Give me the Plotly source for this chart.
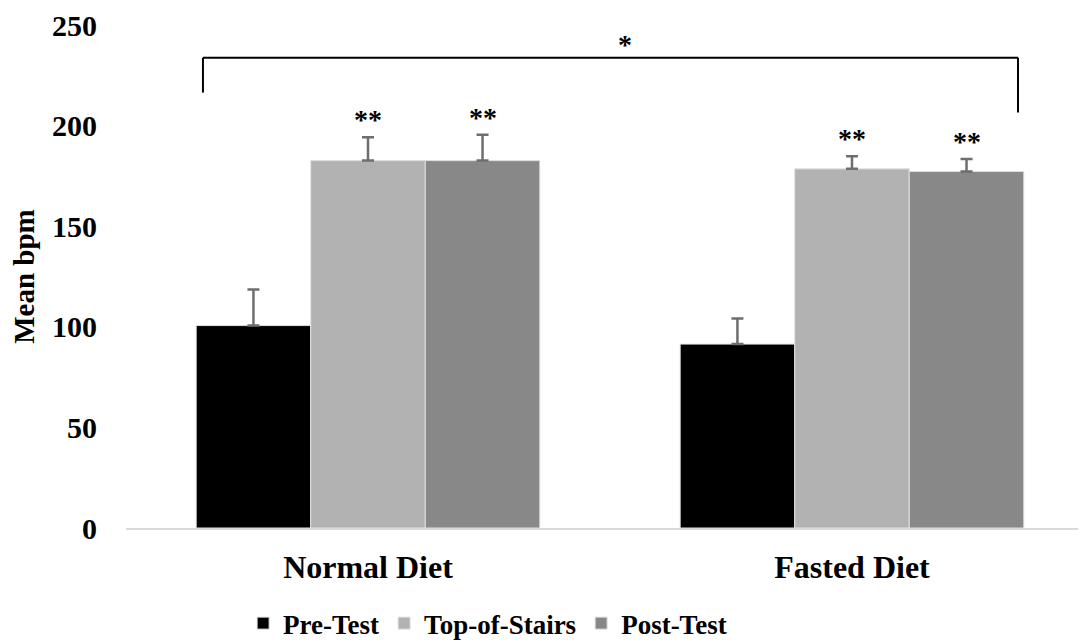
import plotly.graph_objects as go

categories = ["Normal Diet", "Fasted Diet"]
series_names = ["Pre-Test", "Top-of-Stairs", "Post-Test"]
pre_test = [100.6, 91.4]
top_of_stairs = [182.6, 178.5]
post_test = [182.6, 177.2]
pre_err = [18.0, 12.7]
top_err = [11.6, 6.3]
post_err = [12.9, 6.2]
colors = ["#000000", "#b2b2b2", "#888888"]
y_ticks = [0, 50, 100, 150, 200, 250]

values = [pre_test, top_of_stairs, post_test]
errors = [pre_err, top_err, post_err]

FONT = "Liberation Serif"
fig = go.Figure()
for name, vals, errs, col in zip(series_names, values, errors, colors):
    fig.add_trace(go.Bar(
        x=categories, y=vals, name=name,
        marker=dict(color=col, line=dict(color="#e0e0e0", width=1)),
        error_y=dict(type="data", array=errs, symmetric=False, arrayminus=[0] * len(errs),
                     color="#6e6e6e", thickness=2.5, width=6),
    ))

bargap = 0.29
bw = (1 - bargap) / 3
# significance markers "**" above Top-of-Stairs and Post-Test bars
for k, (vals, errs) in enumerate([(top_of_stairs, top_err), (post_test, post_err)], start=1):
    for i in range(len(categories)):
        offset = (k - 1) * bw
        fig.add_annotation(x=i + offset, y=vals[i] + errs[i], text="**", showarrow=False,
                           yanchor="bottom", yshift=0,
                           font=dict(family=FONT, size=28, color="#000000", weight="bold"))

# bracket
fig.add_shape(type="line", x0=-0.341, x1=-0.341, y0=216.4, y1=233.7, line=dict(color="#000000", width=2))
fig.add_shape(type="line", x0=-0.341, x1=1.343, y0=233.7, y1=233.7, line=dict(color="#000000", width=2))
fig.add_shape(type="line", x0=1.343, x1=1.343, y0=206.5, y1=233.7, line=dict(color="#000000", width=2))
fig.add_annotation(x=0.531, y=240.5, text="*", showarrow=False,
                   font=dict(family=FONT, size=28, color="#000000", weight="bold"))

fig.update_layout(
    width=1086, height=643,
    margin=dict(l=118, r=8, t=17, b=123, autoexpand=False),
    paper_bgcolor="white", plot_bgcolor="white",
    barmode="group", bargap=bargap, bargroupgap=0,
    showlegend=True,
    legend=dict(orientation="h", x=0.122, xanchor="left", y=-0.19, yanchor="middle",
                font=dict(family=FONT, size=27, color="#000000", weight="bold"),
                itemwidth=30, traceorder="normal"),
    font=dict(family=FONT, color="#000000"),
)
fig.update_xaxes(
    range=[-0.5, 1.4835], showgrid=False, showline=True, linecolor="#d9d9d9", linewidth=2,
    ticks="", tickfont=dict(family=FONT, size=32, color="#000000", weight="bold"),
    ticklabelstandoff=10, zeroline=False, automargin=False,
)
fig.update_yaxes(
    range=[0, 250], tickvals=y_ticks, showgrid=False, showline=False, zeroline=False,
    ticks="", tickfont=dict(family=FONT, size=30, color="#000000", weight="bold"),
    ticklabelstandoff=28, automargin=False, ticklabeloverflow="allow",
    title=dict(text="Mean bpm", font=dict(family=FONT, size=29, color="#000000", weight="bold"), standoff=8),
)

fig.write_html("out.html")
